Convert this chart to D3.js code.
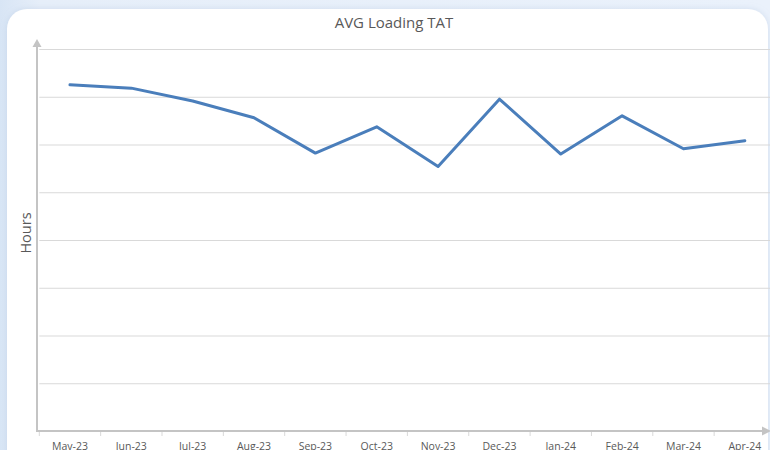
<!DOCTYPE html>
<html>
<head>
<meta charset="utf-8">
<script src="https://cdn.jsdelivr.net/npm/d3@7"></script>
<style>
  body { margin: 0; background: linear-gradient(90deg, #d8e5f5 0px, #e6eef9 40px, #eaf1fb 100%); overflow: hidden; }
  #chart { width: 770px; height: 450px; }
</style>
</head>
<body>
<div id="chart"></div>
<script>
// Data
const months = ["May-23", "Jun-23", "Jul-23", "Aug-23", "Sep-23", "Oct-23",
    "Nov-23", "Dec-23", "Jan-24", "Feb-24", "Mar-24", "Apr-24"];
const avgTat = [7.25, 7.18, 6.91, 6.56, 5.82, 6.37, 5.54, 6.95, 5.80, 6.60, 5.91, 6.08];
const yTicks = [0, 1, 2, 3, 4, 5, 6, 7, 8];

const W = 770, H = 450;
const plot = { left: 39.3, right: 775.5, top: 49, bottom: 431 };
const textColor = "#595959";
const axisColor = "#c4c4c4";

const svg = d3.select("#chart")
    .append("svg")
    .attr("width", W)
    .attr("height", H);

// soft shadow for the card
const defs = svg.append("defs");
const f = defs.append("filter").attr("id", "shadow")
    .attr("x", "-5%").attr("y", "-5%").attr("width", "110%").attr("height", "110%");
f.append("feDropShadow")
    .attr("dx", 0).attr("dy", 0)
    .attr("stdDeviation", 3)
    .attr("flood-color", "#9fb6d6")
    .attr("flood-opacity", 0.35);

svg.append("rect")
    .attr("x", 7).attr("y", 9)
    .attr("width", 761).attr("height", 500)
    .attr("rx", 20)
    .attr("fill", "#ffffff")
    .attr("filter", "url(#shadow)");

// Scales
const x = d3.scaleBand()
    .domain(months)
    .range([plot.left, plot.right])
    .padding(0);

const y = d3.scaleLinear()
    .domain([0, 8])
    .range([plot.bottom, plot.top]);

// Gridlines
const grid = svg.append("g")
    .attr("transform", `translate(${plot.left},0)`)
    .call(d3.axisLeft(y)
        .tickValues(yTicks.slice(1))
        .tickSize(-(plot.right - plot.left))
        .tickFormat(""));
grid.select(".domain").remove();
grid.selectAll(".tick line")
    .attr("stroke", "#d9d9d9")
    .attr("stroke-width", 1);

// X axis labels
const xAxis = svg.append("g")
    .attr("transform", `translate(0,${plot.bottom})`)
    .call(d3.axisBottom(x).tickSize(0).tickPadding(12));
xAxis.select(".domain").remove();
xAxis.selectAll("text")
    .style("font-family", "'Open Sans'")
    .style("font-size", "10.5px")
    .attr("fill", textColor);

// boundary tick marks between categories
svg.append("g")
    .selectAll("line")
    .data(months)
    .join("line")
    .attr("x1", d => x(d))
    .attr("x2", d => x(d))
    .attr("y1", plot.bottom)
    .attr("y2", plot.bottom + 5)
    .attr("stroke", "#d9d9d9")
    .attr("stroke-width", 1);

// Axis lines with arrow heads
svg.append("line")
    .attr("x1", 37).attr("x2", 37)
    .attr("y1", plot.bottom + 1).attr("y2", 46)
    .attr("stroke", axisColor).attr("stroke-width", 2);
svg.append("path")
    .attr("d", "M37,39 L32.5,47 L41.5,47 Z")
    .attr("fill", axisColor);

svg.append("line")
    .attr("x1", 36).attr("x2", 764)
    .attr("y1", plot.bottom).attr("y2", plot.bottom)
    .attr("stroke", axisColor).attr("stroke-width", 2);
svg.append("path")
    .attr("d", `M771,${plot.bottom} L762,${plot.bottom - 4.5} L762,${plot.bottom + 4.5} Z`)
    .attr("fill", axisColor);

// Line
const line = d3.line()
    .x((d, i) => x(months[i]) + x.bandwidth() / 2)
    .y(d => y(d));

svg.append("path")
    .datum(avgTat)
    .attr("fill", "none")
    .attr("stroke", "#4a7ebb")
    .attr("stroke-width", 3)
    .attr("stroke-linejoin", "round")
    .attr("stroke-linecap", "round")
    .attr("d", line);

// Title
svg.append("text")
    .attr("x", 394)
    .attr("y", 28)
    .attr("text-anchor", "middle")
    .style("font-family", "'Open Sans'")
    .style("font-size", "15px")
    .attr("fill", textColor)
    .text("AVG Loading TAT");

// Y axis title
svg.append("text")
    .attr("transform", "translate(31,233) rotate(-90)")
    .attr("text-anchor", "middle")
    .style("font-family", "'Open Sans'")
    .style("font-size", "14.5px")
    .attr("fill", textColor)
    .text("Hours");
</script>
</body>
</html>
